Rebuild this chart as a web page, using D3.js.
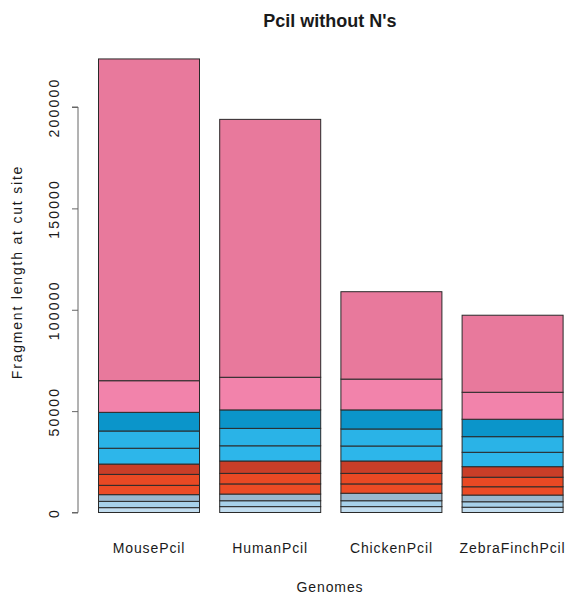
<!DOCTYPE html>
<html>
<head>
<meta charset="utf-8">
<script src="https://cdn.jsdelivr.net/npm/d3@7"></script>
<style>
  html, body { margin: 0; padding: 0; background: #fff; }
  svg { display: block; }
  text { font-family: "Liberation Sans", Arial, Helvetica, sans-serif; fill: #1a1a1a; }
</style>
</head>
<body>
<svg id="chart" width="566" height="596"></svg>
<script>
// Genomes (bars) and fragment-length classes (stacked segments, bottom to top)
const genomes = ["MousePcil", "HumanPcil", "ChickenPcil", "ZebraFinchPcil"];

// Segment sizes per genome, bottom segment first
const mouseSegments  = [2400, 3100, 3300, 4600, 5400, 5100, 7800, 8500, 9200, 15600, 158700];
const humanSegments  = [2900, 2900, 3300, 5000, 5200, 6100, 7500, 8600, 9100, 16100, 127200];
const chickenSegments = [2900, 2900, 3700, 4600, 5200, 6100, 7400, 8400, 9400, 15200, 43100];
const zebraSegments  = [2600, 2700, 3300, 4100, 4700, 5200, 7100, 7700, 8600, 13300, 38000];

const segmentColors = [
  "#c2ddef", "#a7d1ea", "#9ab8cd",
  "#ec4b25", "#e94924", "#c93e28",
  "#2db6ea", "#2ab3e7", "#0b95ca",
  "#f283ab", "#e8799c"
];

const yTicks = [0, 50000, 100000, 150000, 200000];

const titleText = "Pcil without N's";
const xTitle = "Genomes";
const yTitle = "Fragment length at cut site";

const segmentsByGenome = [mouseSegments, humanSegments, chickenSegments, zebraSegments];

const svg = d3.select("#chart");

// Scales
const x = d3.scaleBand()
  .domain(genomes)
  .range([88.4, 573.2])
  .paddingInner(1 / 6)
  .paddingOuter(1 / 12);

const y = d3.scaleLinear()
  .domain([0, 200000])
  .range([512.5, 107]);

// Stacked bars
genomes.forEach((g, gi) => {
  const segs = segmentsByGenome[gi];
  let base = 0;
  const group = svg.append("g").attr("class", "bar");
  segs.forEach((v, si) => {
    const top = base + v;
    group.append("rect")
      .attr("x", x(g))
      .attr("width", x.bandwidth())
      .attr("y", y(top))
      .attr("height", y(base) - y(top))
      .attr("fill", segmentColors[si])
      .attr("stroke", "#2a2a2a")
      .attr("stroke-width", 1);
    base = top;
  });
});

// Y axis
const yAxis = d3.axisLeft(y)
  .tickValues(yTicks)
  .tickSize(6)
  .tickFormat(d3.format("d"));

const yg = svg.append("g")
  .attr("transform", "translate(78,0)")
  .call(yAxis);

yg.select(".domain").attr("stroke", "#666").attr("stroke-width", 1)
  .attr("d", `M-6,${y(0)}H0V${y(200000)}H-6`);
yg.selectAll(".tick line").attr("stroke", "#666");
yg.selectAll(".tick text")
  .attr("x", 0).attr("y", 0).attr("dy", null)
  .attr("transform", "translate(-19,0) rotate(-90)")
  .attr("text-anchor", "middle")
  .style("font-size", "14px")
  .style("letter-spacing", "2.2px")
  .style("font-family", "'Liberation Sans', Arial, sans-serif")
  .attr("fill", "#1a1a1a");

// Category labels
svg.append("g").selectAll("text")
  .data(genomes)
  .join("text")
  .attr("x", d => x(d) + x.bandwidth() / 2)
  .attr("y", 553)
  .attr("text-anchor", "middle")
  .style("font-size", "14px")
  .style("letter-spacing", "0.9px")
  .text(d => d);

// Title
svg.append("text")
  .attr("x", 330)
  .attr("y", 27)
  .attr("text-anchor", "middle")
  .style("font-size", "18px")
  .style("font-weight", "bold")
  .text(titleText);

// Axis titles
svg.append("text")
  .attr("x", 330)
  .attr("y", 592)
  .attr("text-anchor", "middle")
  .style("font-size", "14px")
  .style("letter-spacing", "0.9px")
  .text(xTitle);

svg.append("text")
  .attr("transform", "translate(22,272) rotate(-90)")
  .attr("text-anchor", "middle")
  .style("font-size", "14px")
  .style("letter-spacing", "1.8px")
  .text(yTitle);
</script>
</body>
</html>
